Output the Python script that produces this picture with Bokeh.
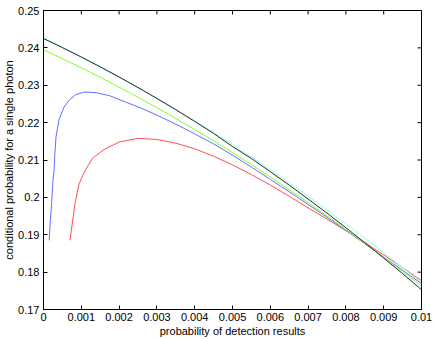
import math
from bokeh.plotting import figure
from bokeh.models import Range1d, FixedTicker
from bokeh.embed import file_html
from bokeh.resources import INLINE

# x values in units of probability
x_full = [0.0, 0.0005, 0.001, 0.0015, 0.002, 0.0025, 0.003, 0.0035, 0.004, 0.0045, 0.005,
          0.0055, 0.006, 0.0065, 0.007, 0.0075, 0.008, 0.0085, 0.009, 0.0095, 0.01]

black_y = [0.2425, 0.24007, 0.23754, 0.23492, 0.2322, 0.22938, 0.22646, 0.22344, 0.22032, 0.2171, 0.2136,
           0.21039, 0.20688, 0.20328, 0.19958, 0.19578, 0.19188, 0.18788, 0.18378, 0.17959, 0.1753]
cyan_y = [0.2427, 0.24022, 0.23766, 0.23502, 0.23228, 0.22947, 0.22657, 0.22359, 0.22052, 0.21736, 0.21413,
          0.2108, 0.2074, 0.2039, 0.20033, 0.19667, 0.19292, 0.1891, 0.18518, 0.18118, 0.1772]
green_y = [0.2395, 0.23713, 0.23467, 0.23213, 0.2295, 0.22679, 0.2240, 0.22112, 0.21816, 0.21511, 0.21197,
           0.20876, 0.20546, 0.20207, 0.1986, 0.19504, 0.1914, 0.18768, 0.1840, 0.1801, 0.1763]

blue_x = [0.00015, 0.000175, 0.00022, 0.00025, 0.00028, 0.0003, 0.00033, 0.00041, 0.00054, 0.00068,
          0.00085, 0.0011, 0.0014, 0.00175, 0.0022, 0.0026, 0.003, 0.0035, 0.004, 0.0045, 0.005,
          0.0055, 0.006, 0.0065, 0.007, 0.0075, 0.008, 0.0085, 0.009, 0.0095, 0.01]
blue_y = [0.1885, 0.1929, 0.1992, 0.2045, 0.2072, 0.2115, 0.2161, 0.2208, 0.2241, 0.2260,
          0.2275, 0.2282, 0.2280, 0.2272, 0.2254, 0.2238, 0.2220, 0.2196, 0.2170, 0.2143, 0.2113,
          0.2081, 0.2048, 0.2015, 0.1981, 0.1947, 0.1912, 0.1876, 0.1840, 0.1805, 0.1769]

red_x = [0.0007, 0.00076, 0.0008, 0.00085, 0.00094, 0.001, 0.0011, 0.0013, 0.0016, 0.002, 0.0025,
         0.003, 0.0035, 0.004, 0.0045, 0.005, 0.0055, 0.006, 0.0065, 0.007, 0.0075, 0.008,
         0.0085, 0.009, 0.0095, 0.01]
red_y = [0.1885, 0.1929, 0.1960, 0.1992, 0.2036, 0.2050, 0.2072, 0.2105, 0.2128, 0.2148, 0.2158,
         0.2155, 0.2145, 0.2130, 0.2110, 0.2087, 0.2061, 0.2033, 0.2003, 0.1972, 0.1942, 0.1911,
         0.1879, 0.1846, 0.1812, 0.1777]

x_ticks = [0.0, 0.001, 0.002, 0.003, 0.004, 0.005, 0.006, 0.007, 0.008, 0.009, 0.01]
x_tick_labels = ["0", "0.001", "0.002", "0.003", "0.004", "0.005", "0.006", "0.007", "0.008", "0.009", "0.01"]
y_ticks = [0.17, 0.18, 0.19, 0.2, 0.21, 0.22, 0.23, 0.24, 0.25]
y_tick_labels = ["0.17", "0.18", "0.19", "0.2", "0.21", "0.22", "0.23", "0.24", "0.25"]

FONT = "Liberation Sans"
X0, X1 = 0.0, 0.01
Y0, Y1 = 0.17, 0.25

p = figure(width=436, height=339, output_backend="svg", toolbar_location=None,
           x_range=Range1d(X0, X1), y_range=Range1d(Y0, Y1),
           min_border_left=41, min_border_right=15, min_border_top=10, min_border_bottom=30)
p.grid.visible = False
p.background_fill_color = "white"
p.border_fill_color = "white"
p.outline_line_color = "black"
p.outline_line_width = 1

xa = p.xaxis[0]
ya = p.yaxis[0]
xa.ticker = FixedTicker(ticks=x_ticks)
ya.ticker = FixedTicker(ticks=y_ticks)
xa.major_label_overrides = {t: l for t, l in zip(x_ticks, x_tick_labels)}
ya.major_label_overrides = {t: l for t, l in zip(y_ticks, y_tick_labels)}
xa.axis_label = "probability of detection results"
ya.axis_label = "conditional probability for a single photon"
for ax in (xa, ya):
    ax.major_tick_in = 4
    ax.major_tick_out = 0
    ax.minor_tick_in = 0
    ax.minor_tick_out = 0
    ax.axis_line_color = "black"
    ax.major_tick_line_color = "black"
    ax.major_label_text_font = FONT
    ax.major_label_text_font_size = "11px"
    ax.major_label_text_color = "black"
    ax.axis_label_text_font = FONT
    ax.axis_label_text_font_size = "11px"
    ax.axis_label_text_font_style = "normal"
    ax.axis_label_text_color = "black"
xa.major_label_standoff = 3
xa.axis_label_standoff = 1
ya.major_label_standoff = 4
ya.axis_label_standoff = 0

# inward ticks on the top and right edges (box style); half of each dash is clipped by the frame
p.scatter([X1] * len(y_ticks), y_ticks, marker="dash", size=8, line_color="black", line_width=1)
p.scatter(x_ticks, [Y1] * len(x_ticks), marker="dash", size=8, angle=math.pi / 2,
          line_color="black", line_width=1)

p.line(red_x, red_y, line_color="#ff5050", line_width=1)
p.line(blue_x, blue_y, line_color="#6070ff", line_width=1)
p.line(x_full, green_y, line_color="#7dff2a", line_width=1)
p.line(x_full, cyan_y, line_color="#8affe6", line_width=1)
p.line(x_full, black_y, line_color="#2a2a2a", line_width=1)

open("out.html", "w").write(file_html(p, INLINE))
